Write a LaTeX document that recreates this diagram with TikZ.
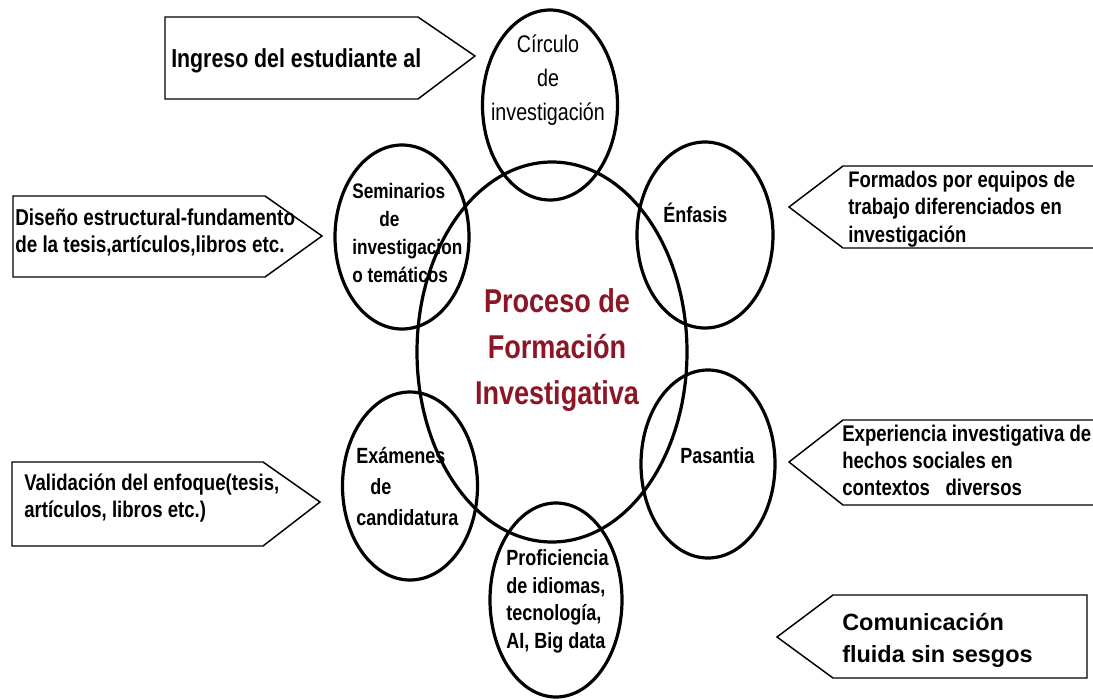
\documentclass[tikz,border=0pt]{standalone}
\usepackage{fontspec}
\setmainfont{Liberation Sans}
\newfontfamily\narrowfont{Liberation Sans}[FakeStretch=0.82]
\usetikzlibrary{shapes.geometric}
\definecolor{procred}{RGB}{140,22,38}
\tikzset{
  ring/.style={draw, ellipse, line width=2.4pt, inner sep=0pt},
  arrowbox/.style={draw, line width=1.1pt, line join=miter},
  lbl/.style={anchor=base west, inner sep=0pt, align=left},
  clbl/.style={anchor=base, inner sep=0pt, align=center},
}
\begin{document}
\begin{tikzpicture}[x=0.75pt, y=-0.75pt]
\useasboundingbox (0,0) rectangle (1093,700);
\fill[white] (0,0) rectangle (1093,700);

% ellipses
\node[ring, minimum width=202.5pt, minimum height=285pt] (centre) at (552,352) {};
\node[ring, minimum width=101.25pt, minimum height=142.5pt] (circulo) at (550,105) {};
\node[ring, minimum width=100.5pt, minimum height=138pt] (seminarios) at (402,237) {};
\node[ring, minimum width=102pt, minimum height=139.5pt] (enfasis) at (705,235) {};
\node[ring, minimum width=101.25pt, minimum height=141pt] (examenes) at (410,486) {};
\node[ring, minimum width=100.5pt, minimum height=141pt] (pasantia) at (708,464) {};
\node[ring, minimum width=99pt, minimum height=145.5pt] (proficiencia) at (556,600) {};

% arrow boxes
\draw[arrowbox] (165,17) -- (418,17) -- (475,56) -- (418,99) -- (165,99) -- cycle;
\draw[arrowbox] (13,196) -- (265,196) -- (322,236) -- (265,277) -- (13,277) -- cycle;
\draw[arrowbox] (12,462) -- (263,462) -- (320,502) -- (263,546) -- (12,546) -- cycle;
\draw[arrowbox] (1094,166) -- (843,166) -- (789,207) -- (843,248) -- (1094,248);
\draw[arrowbox] (1094,420) -- (843,420) -- (789,462) -- (843,505) -- (1094,505);
\draw[arrowbox] (1087,595) -- (833,595) -- (777,637) -- (833,678) -- (1087,678) -- cycle;

% box texts (anchored at the baseline of their last line)
\node[lbl, font=\narrowfont\bfseries\fontsize{19.5}{23}\selectfont] (ingreso) at (171,67) {Ingreso del estudiante al};
\node[lbl, font=\narrowfont\bfseries\fontsize{17.25}{20.25}\selectfont] (diseno) at (15,252) {Diseño estructural-fundamento\\de la tesis,artículos,libros etc.};
\node[lbl, font=\narrowfont\bfseries\fontsize{17}{20.25}\selectfont] (validacion) at (24,517) {Validación del enfoque(tesis,\\artículos, libros etc.)};
\node[lbl, font=\narrowfont\bfseries\fontsize{16.9}{20.6}\selectfont] (formados) at (848,242) {Formados por equipos de\\trabajo diferenciados en\\investigación};
\node[lbl, font=\narrowfont\bfseries\fontsize{17}{19.9}\selectfont] (experiencia) at (842,495) {Experiencia investigativa de\\hechos sociales en\\contextos\ \ \ diversos};
\node[lbl, font=\bfseries\fontsize{17.6}{24}\selectfont] (comunicacion) at (842,662) {Comunicación\\fluida sin sesgos};

% central text
\node[clbl, text=procred, font=\narrowfont\bfseries\fontsize{24.75}{34.5}\selectfont] (proceso) at (557,404) {Proceso de\\Formación\\Investigativa};

% circle texts
\node[clbl, font=\narrowfont\fontsize{18}{25.5}\selectfont] (tcirculo) at (548,120) {Círculo\\de\\investigación};
\node[lbl, font=\narrowfont\bfseries\fontsize{15.75}{21}\selectfont] (tseminarios) at (352,282) {Seminarios\\\hspace*{20.25pt}de\\investigacion\\o temáticos};
\node[lbl, font=\narrowfont\bfseries\fontsize{16.5}{20}\selectfont] (tenfasis) at (663,222) {Énfasis};
\node[lbl, font=\narrowfont\bfseries\fontsize{16.5}{20}\selectfont] (tpasantia) at (680,463) {Pasantia};
\node[lbl, font=\narrowfont\bfseries\fontsize{16.5}{23.25}\selectfont] (texamenes) at (356,525) {Exámenes\\\hspace*{10.5pt}de\\candidatura};
\node[lbl, font=\narrowfont\bfseries\fontsize{16.5}{20.6}\selectfont] (tproficiencia) at (506,648) {Proficiencia\\de idiomas,\\tecnología,\\AI, Big data};
\end{tikzpicture}
\end{document}
